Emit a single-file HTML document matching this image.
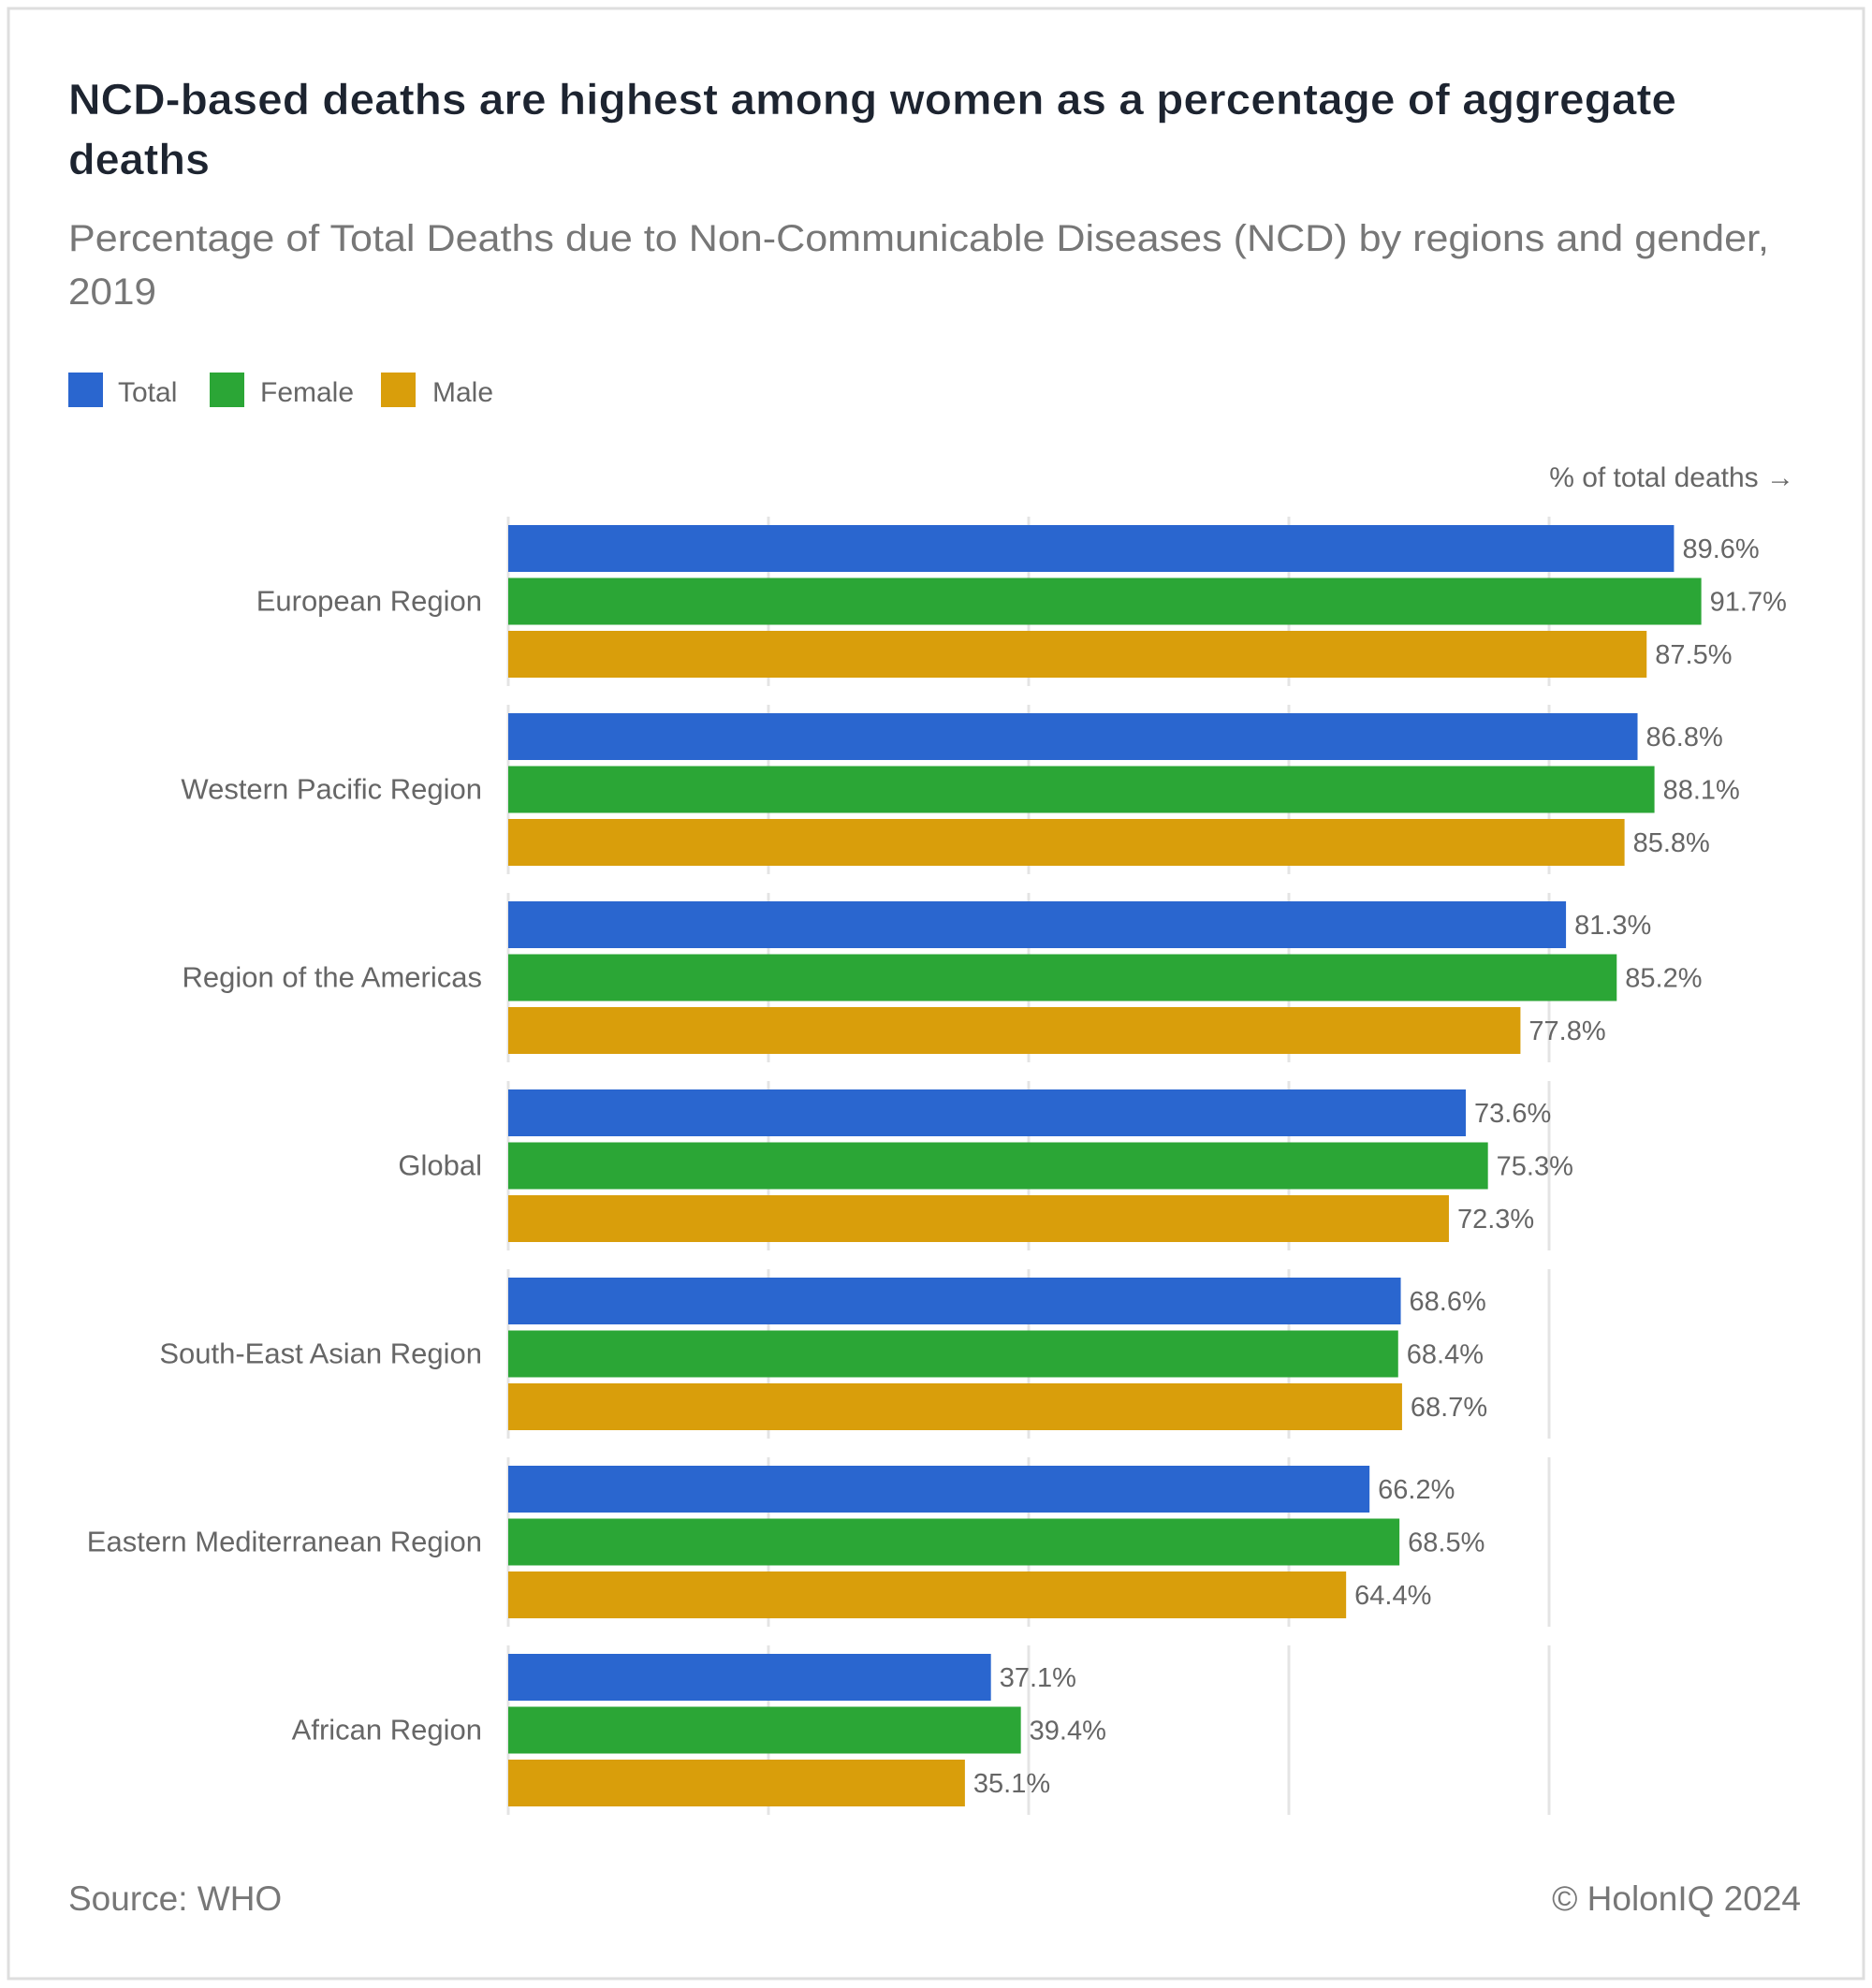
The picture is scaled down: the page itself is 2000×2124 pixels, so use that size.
<!DOCTYPE html>
<html><head><meta charset="utf-8"><style>
html,body{margin:0;padding:0;background:#fff;}
svg{display:block;font-family:"Liberation Sans",sans-serif;}
</style></head><body>
<svg id="chart" width="2000" height="2124" viewBox="0 0 2000 2124" xmlns="http://www.w3.org/2000/svg">
<rect x="9" y="9" width="1982" height="2105" fill="#fff" stroke="#dedede" stroke-width="3"/>
<text x="73" y="122" font-size="46" font-weight="bold" fill="#1d2430" stroke="#fff" stroke-width="0.6" textLength="1718" lengthAdjust="spacingAndGlyphs">NCD-based deaths are highest among women as a percentage of aggregate</text>
<text x="73" y="186" font-size="46" font-weight="bold" fill="#1d2430" stroke="#fff" stroke-width="0.6" textLength="151" lengthAdjust="spacingAndGlyphs">deaths</text>
<text x="73" y="268" font-size="40" fill="#777" textLength="1817" lengthAdjust="spacingAndGlyphs">Percentage of Total Deaths due to Non-Communicable Diseases (NCD) by regions and gender,</text>
<text x="73" y="325" font-size="40" fill="#777" textLength="94" lengthAdjust="spacingAndGlyphs">2019</text>
<g>
<rect x="73" y="398" width="37" height="37" fill="#2a66cf"/>
<text x="126" y="429" font-size="30" fill="#666">Total</text>
<rect x="224" y="398" width="37" height="37" fill="#2ba636"/>
<text x="278" y="429" font-size="30" fill="#666">Female</text>
<rect x="407" y="398" width="37" height="37" fill="#d99e0b"/>
<text x="462" y="429" font-size="30" fill="#666">Male</text>
</g>
<text x="1917" y="520" font-size="30" fill="#666" text-anchor="end">% of total deaths →</text>
<g id="plot"></g>
<text x="73" y="2041" font-size="37" fill="#777">Source: WHO</text>
<text x="1924" y="2041" font-size="37" fill="#777" text-anchor="end">© HolonIQ 2024</text>
</svg>
<script>
const categories = ["European Region","Western Pacific Region","Region of the Americas","Global","South-East Asian Region","Eastern Mediterranean Region","African Region"];
const totalValues = [89.6,86.8,81.3,73.6,68.6,66.2,37.1];
const femaleValues = [91.7,88.1,85.2,75.3,68.4,68.5,39.4];
const maleValues = [87.5,85.8,77.8,72.3,68.7,64.4,35.1];
const gridTicks = [0,20,40,60,80];

const NS = "http://www.w3.org/2000/svg";
const plot = document.getElementById('plot');
const x0 = 543, pxPerUnit = 13.9;
function xScale(v){ return x0 + v * pxPerUnit; }
const groupTop0 = 561, groupStep = 201, barStep = 56.5, barH = 50;
function groupTop(i){ return groupTop0 + i * groupStep; }
const series = [
  {name:'total', vals: totalValues, color:'#2a66cf'},
  {name:'female', vals: femaleValues, color:'#2ba636'},
  {name:'male', vals: maleValues, color:'#d99e0b'}
];
function mk(tag, attrs){ const e=document.createElementNS(NS,tag); for(const k in attrs) e.setAttribute(k, attrs[k]); return e; }

categories.forEach((cat, i) => {
  const gt = groupTop(i);
  gridTicks.forEach(t => {
    const ln = mk('line', {x1:xScale(t), x2:xScale(t), y1:gt-9, y2:gt+172, stroke:'#e4e4e4', 'stroke-width':3});
    
    
    plot.appendChild(ln);
  });
  const lbl = mk('text', {x:515, y:gt + barStep + barH/2 + 10, 'font-size':31, fill:'#666', 'text-anchor':'end'});
  lbl.textContent = cat;
  
  
  plot.appendChild(lbl);
  series.forEach((s, j) => {
    const v = s.vals[i];
    const y = gt + j * barStep;
    const r = mk('rect', {x:x0, y:y, width:xScale(v)-x0, height:barH, fill:s.color});
    
    
    plot.appendChild(r);
    const t = mk('text', {x:xScale(v)+9, y:y + barH/2 + 10, 'font-size':29, fill:'#666'});
    t.textContent = v.toFixed(1) + '%';
    
    
    plot.appendChild(t);
  });
});
</script>
</body></html>
